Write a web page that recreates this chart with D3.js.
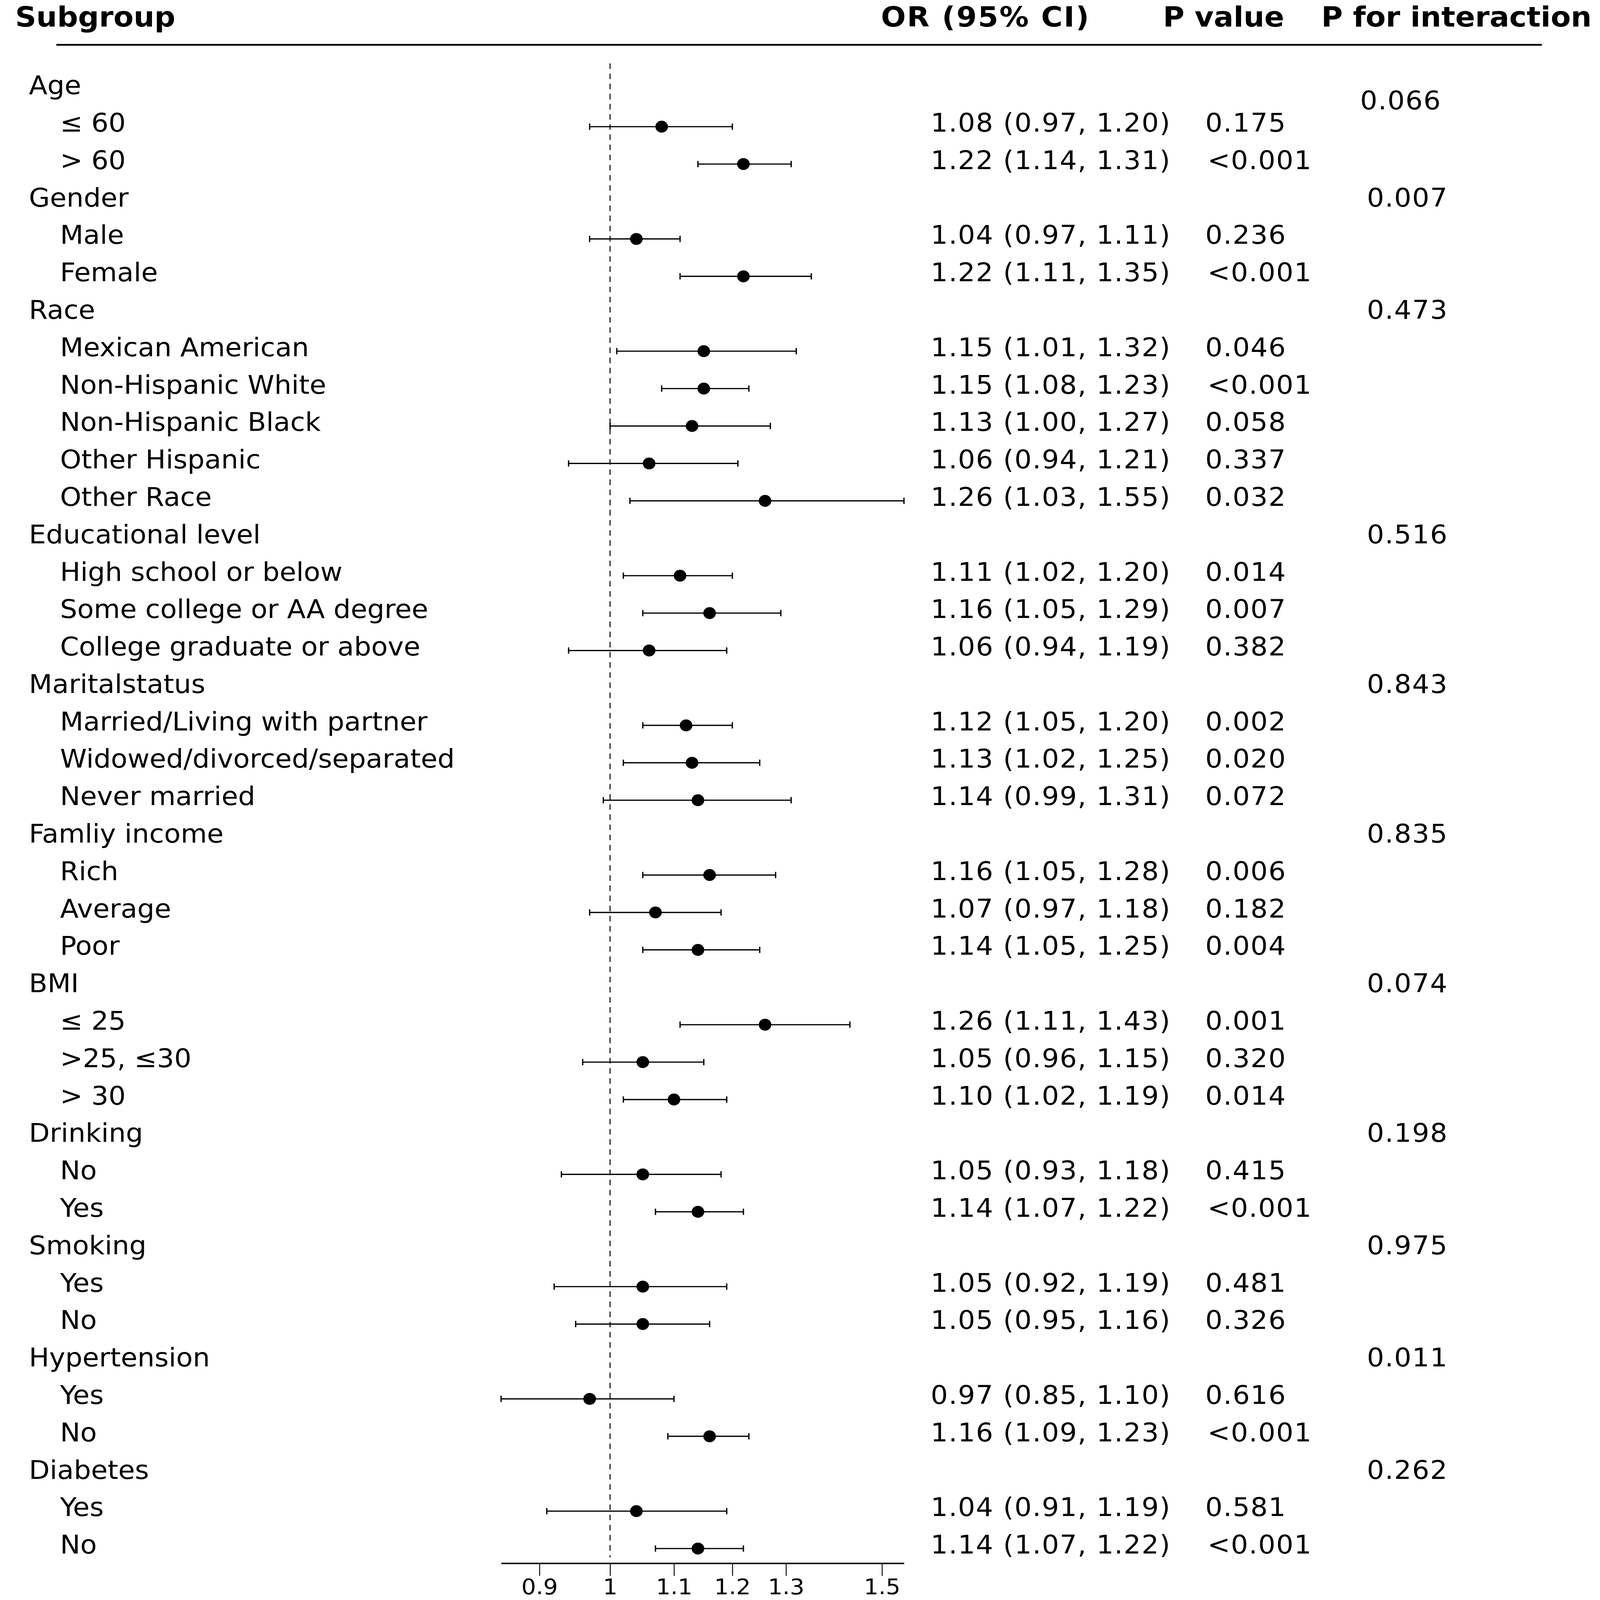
<!DOCTYPE html>
<html>
<head>
<meta charset="utf-8">
<script src="https://cdn.jsdelivr.net/npm/d3@7/dist/d3.min.js"></script>
<style>
  html, body { margin: 0; padding: 0; background: #fff; overflow: hidden; }
  svg { display: block; width: 100vw; height: 100vh; }
  text { font-family: "DejaVu Sans", Verdana, sans-serif; fill: #000; }
</style>
</head>
<body>
<script>
// ---------- data ----------
const groups = ["Age", "Gender", "Race", "Educational level", "Maritalstatus", "Famliy income",
  "BMI", "Drinking", "Smoking", "Hypertension", "Diabetes"];
const pInteraction = ["0.066", "0.007", "0.473", "0.516", "0.843", "0.835", "0.074", "0.198", "0.975", "0.011", "0.262"];
const subgroups = [
  ["≤ 60", "> 60"],
  ["Male", "Female"],
  ["Mexican American", "Non-Hispanic White", "Non-Hispanic Black", "Other Hispanic", "Other Race"],
  ["High school or below", "Some college or AA degree", "College graduate or above"],
  ["Married/Living with partner", "Widowed/divorced/separated", "Never married"],
  ["Rich", "Average", "Poor"],
  ["≤ 25", ">25, ≤30", "> 30"],
  ["No", "Yes"],
  ["Yes", "No"],
  ["Yes", "No"],
  ["Yes", "No"]
];
const orValues = [1.08, 1.22, 1.04, 1.22, 1.15, 1.15, 1.13, 1.06, 1.26, 1.11, 1.16, 1.06,
  1.12, 1.13, 1.14, 1.16, 1.07, 1.14, 1.26, 1.05, 1.10, 1.05, 1.14, 1.05, 1.05, 0.97, 1.16, 1.04, 1.14];
const lowerCI = [0.97, 1.14, 0.97, 1.11, 1.01, 1.08, 1.00, 0.94, 1.03, 1.02, 1.05, 0.94,
  1.05, 1.02, 0.99, 1.05, 0.97, 1.05, 1.11, 0.96, 1.02, 0.93, 1.07, 0.92, 0.95, 0.85, 1.09, 0.91, 1.07];
const upperCI = [1.20, 1.31, 1.11, 1.35, 1.32, 1.23, 1.27, 1.21, 1.55, 1.20, 1.29, 1.19,
  1.20, 1.25, 1.31, 1.28, 1.18, 1.25, 1.43, 1.15, 1.19, 1.18, 1.22, 1.19, 1.16, 1.10, 1.23, 1.19, 1.22];
const pValues = ["0.175", "<0.001", "0.236", "<0.001", "0.046", "<0.001", "0.058", "0.337", "0.032",
  "0.014", "0.007", "0.382", "0.002", "0.020", "0.072", "0.006", "0.182", "0.004", "0.001", "0.320",
  "0.014", "0.415", "<0.001", "0.481", "0.326", "0.616", "<0.001", "0.581", "<0.001"];
const tickValues = [0.9, 1, 1.1, 1.2, 1.3, 1.5];
const headers = ["Subgroup", "OR (95% CI)", "P value", "P for interaction"];

// ---------- build rows ----------
const rows = [];
let k = 0;
groups.forEach((g, gi) => {
  rows.push({ type: "group", label: g, pint: pInteraction[gi], gi: gi });
  subgroups[gi].forEach(s => {
    rows.push({ type: "sub", label: s, or: orValues[k], lo: lowerCI[k], hi: upperCI[k], p: pValues[k] });
    k++;
  });
});
rows.forEach((r, i) => r.i = i);

// ---------- layout ----------
const W = 4317, H = 4572;
const svg = d3.select("body").append("svg")
  .attr("viewBox", `0 0 ${W} ${H}`)
  .attr("preserveAspectRatio", "none");

const y = d3.scalePoint().domain(d3.range(rows.length)).range([243, 4413]);
const x = d3.scaleLog().domain([0.85, 1.55]).range([1352, 2439]);

const fs = 73;
const colGroupX = 78, colSubX = 162, colOrX = 2511, colPX = 3252, colPintX = 3688;

// header
const hdr = svg.append("g").attr("font-weight", "bold").attr("font-size", 79);
const hdrX = [41, 2377, 3138, 3565];
hdr.selectAll("text").data(headers).join("text")
  .attr("x", (d, i) => hdrX[i]).attr("y", 76)
  .attr("letter-spacing", (d, i) => i === 1 ? 3 : 0)
  .text(d => d);
svg.append("line").attr("x1", 152).attr("x2", 4160).attr("y1", 128).attr("y2", 128)
  .attr("stroke", "#000").attr("stroke-width", 5);

// reference line
svg.append("line").attr("x1", x(1)).attr("x2", x(1)).attr("y1", 181).attr("y2", 4450)
  .attr("stroke", "#444").attr("stroke-width", 4).attr("stroke-dasharray", "16,13");

// rows
const rg = svg.selectAll("g.row").data(rows).join("g").attr("class", "row");

rg.append("text")
  .attr("x", d => d.type === "group" ? colGroupX : colSubX)
  .attr("y", d => y(d.i))
  .attr("dy", "0.36em")
  .attr("font-size", fs)
  .text(d => d.label);

const subs = rg.filter(d => d.type === "sub");
subs.append("text")
  .attr("x", colOrX).attr("y", d => y(d.i))
  .attr("dy", "0.36em").attr("font-size", fs).attr("letter-spacing", 2)
  .text(d => `${d.or.toFixed(2)} (${d.lo.toFixed(2)}, ${d.hi.toFixed(2)})`);
subs.append("text")
  .attr("x", d => d.p.startsWith("<") ? colPX + 6 : colPX).attr("y", d => y(d.i))
  .attr("dy", "0.36em").attr("font-size", fs).attr("letter-spacing", 2)
  .text(d => d.p);

const grps = rg.filter(d => d.type === "group");
grps.append("text")
  .attr("x", d => d.gi === 0 ? colPintX - 18 : colPintX)
  .attr("y", d => d.gi === 0 ? y(d.i) + 0.4 * y.step() : y(d.i))
  .attr("dy", "0.36em").attr("font-size", fs).attr("letter-spacing", 2)
  .text(d => d.pint);

// CI lines, caps, points
const off = 12, cap = 9;
subs.append("line")
  .attr("x1", d => x(d.lo)).attr("x2", d => x(d.hi))
  .attr("y1", d => y(d.i) + off).attr("y2", d => y(d.i) + off)
  .attr("stroke", "#000").attr("stroke-width", 3.5);
subs.append("line")
  .attr("x1", d => x(d.lo)).attr("x2", d => x(d.lo))
  .attr("y1", d => y(d.i) + off - cap).attr("y2", d => y(d.i) + off + cap)
  .attr("stroke", "#000").attr("stroke-width", 3.5);
subs.append("line")
  .attr("x1", d => x(d.hi)).attr("x2", d => x(d.hi))
  .attr("y1", d => y(d.i) + off - cap).attr("y2", d => y(d.i) + off + cap)
  .attr("stroke", "#000").attr("stroke-width", 3.5);
subs.append("circle")
  .attr("cx", d => x(d.or)).attr("cy", d => y(d.i) + off)
  .attr("r", 17).attr("fill", "#000");

// axis
const axisG = svg.append("g").attr("transform", "translate(0,4467)")
  .call(d3.axisBottom(x).tickValues(tickValues).tickFormat(d3.format("")).tickSize(36).tickSizeOuter(0));
axisG.select(".domain").attr("stroke-width", 4);
axisG.selectAll(".tick line").attr("stroke-width", 2.5);
axisG.selectAll(".tick text").attr("font-size", 62).attr("font-family", "DejaVu Sans, sans-serif")
  .attr("y", 44).attr("dy", "0.71em");
</script>
</body>
</html>
